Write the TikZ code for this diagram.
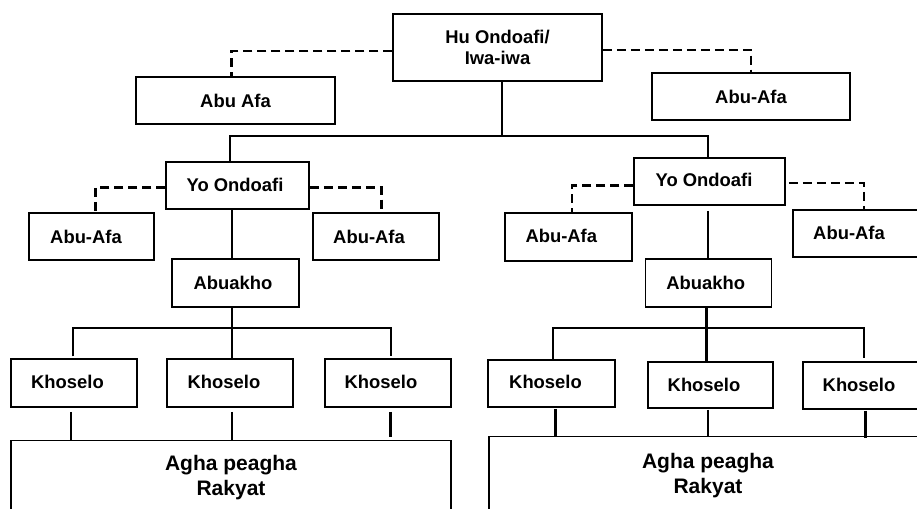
\documentclass[tikz,border=0pt]{standalone}
\usepackage{fontspec}
\setmainfont{Liberation Sans}
\newcommand{\lsh}[1]{\hspace*{#1pt}}
\begin{document}
\begin{tikzpicture}[x=1pt,y=-1pt,
  box/.style={draw=black,line width=1.5pt,fill=white,inner sep=0pt,align=center,
    font=\fontsize{18.4}{21.3}\selectfont\bfseries},
  big/.style={box,font=\fontsize{21}{25}\selectfont\bfseries},
  conn/.style={draw=black,line width=2.7pt},
  dsh/.style={draw=black,line width=2.6pt,dash pattern=on 9pt off 5pt}]
\useasboundingbox (0,0) rectangle (917,508);
\clip (0,0) rectangle (917,508);
% top
\node[box,minimum width=209pt,minimum height=67pt] (hu) at (497.5,47.5) {Hu Ondoafi/\\Iwa-iwa};
\node[box,minimum width=199pt,minimum height=47pt] (abuL1) at (235.5,100.5) {Abu Afa};
\node[box,minimum width=198pt,minimum height=47pt] (abuR1) at (751,96.5) {Abu-Afa};
% left branch
\node[box,minimum width=143pt,minimum height=47pt] (yoL) at (237.5,185.5) {\raisebox{2pt}{Yo Ondoafi}\lsh{5}};
\node[box,minimum width=125pt,minimum height=47pt] (abuL2) at (91.5,236.5) {Abu-Afa\lsh{11}};
\node[box,minimum width=126pt,minimum height=47pt] (abuL3) at (376,236.5) {Abu-Afa\lsh{14}};
\node[box,minimum width=127pt,minimum height=48pt] (akL) at (235.5,283) {Abuakho\lsh{5}};
\node[box,minimum width=126pt,minimum height=48pt] (kL1) at (74,383) {\raisebox{2pt}{Khoselo}\lsh{13}};
\node[box,minimum width=126pt,minimum height=48pt] (kL2) at (230,383) {\raisebox{2pt}{Khoselo}\lsh{12}};
\node[box,minimum width=126pt,minimum height=48pt] (kL3) at (388,383) {\raisebox{2pt}{Khoselo}\lsh{14}};
\node[big,minimum width=440pt,minimum height=74pt] (aghaL) at (231,477.7) {Agha peagha\\Rakyat};
% right branch
\node[box,minimum width=151pt,minimum height=47pt] (yoR) at (709.5,181.5) {\raisebox{3pt}{Yo Ondoafi}\lsh{11}};
\node[box,minimum width=127pt,minimum height=48pt] (abuR2) at (568.3,237) {\raisebox{2pt}{Abu-Afa}\lsh{14}};
\node[box,minimum width=130pt,minimum height=47pt] (abuR3) at (858,233.5) {\raisebox{2pt}{Abu-Afa}\lsh{18}};
\node[box,minimum width=126pt,minimum height=48pt] (akR) at (708.7,283) {Abuakho\lsh{6}};
\node[box,minimum width=127pt,minimum height=47pt] (kR1) at (551.5,383.5) {\raisebox{3pt}{Khoselo}\lsh{12}};
\node[box,minimum width=125pt,minimum height=46pt] (kR2) at (710.5,385) {\raisebox{1pt}{Khoselo}\lsh{13}};
\node[box,minimum width=130pt,minimum height=47pt] (kR3) at (868,385.5) {\raisebox{1pt}{Khoselo}\lsh{18}};
\node[big,minimum width=438pt,minimum height=78pt] (aghaR) at (708,475.7) {Agha peagha\\Rakyat};
% top connectors
\draw[dsh] ([yshift=-3.5pt]hu.west) -| ([xshift=-4pt]abuL1.north);
\draw[dsh] ([yshift=-2.5pt]hu.east) -| (abuR1.north);
\draw[conn] ([xshift=4.5pt]hu.south) -- ([xshift=4.5pt]hu.south |- 0,136);
\draw[conn] ([xshift=-7.5pt]yoL.north) |- ([xshift=-1.5pt]yoR.north |- 0,136) -- ([xshift=-1.5pt]yoR.north);
% left branch connectors
\draw[dsh] ([yshift=-2pt]yoL.west) -| ([xshift=4pt]abuL2.north);
\draw[dsh] ([yshift=-2pt]yoL.east) -| ([xshift=5.7pt]abuL3.north);
\draw[conn] ([xshift=-5.5pt]yoL.south) -- ([xshift=-5.5pt]yoL.south |- akL.north);
\draw[conn] ([xshift=-3.5pt]akL.south) -- ([xshift=-3.5pt]akL.south |- kL2.north);
\draw[conn] ([xshift=-1pt,yshift=2pt]kL1.north) |- ([xshift=3pt]kL3.north |- 0,328) -- ([xshift=3pt,yshift=2pt]kL3.north);
\draw[conn] ([xshift=-3pt,yshift=-4pt]kL1.south) -- ([xshift=-3pt]kL1.south |- aghaL.north);
\draw[conn] ([xshift=2pt,yshift=-4pt]kL2.south) -- ([xshift=2pt]kL2.south |- aghaL.north);
\draw[conn] ([xshift=2.7pt,yshift=-4pt]kL3.south) -- ([xshift=2.7pt,yshift=3pt]kL3.south |- aghaL.north);
% right branch connectors
\draw[dsh] ([yshift=-4pt]yoR.west) -| ([xshift=3.7pt]abuR2.north);
\draw[dsh] ([yshift=-1.5pt,xshift=3pt]yoR.east) -| ([xshift=6pt]abuR3.north);
\draw[conn] ([xshift=-1.5pt,yshift=-5pt]yoR.south) -- ([xshift=-1.5pt]yoR.south |- akR.north);
\draw[conn] ([xshift=-2pt]akR.south) -- ([xshift=-2pt]akR.south |- kR2.north);
\draw[conn] ([xshift=1.5pt]kR1.north) |- ([xshift=-4pt]kR3.north |- 0,328) -- ([xshift=-4pt,yshift=3pt]kR3.north);
\draw[conn] ([xshift=4.2pt,yshift=-1pt]kR1.south) -- ([xshift=4.2pt]kR1.south |- aghaR.north);
\draw[conn] ([xshift=-2.5pt,yshift=-1pt]kR2.south) -- ([xshift=-2.5pt]kR2.south |- aghaR.north);
\draw[conn] ([xshift=-2.3pt,yshift=-1pt]kR3.south) -- ([xshift=-2.3pt,yshift=-2pt]kR3.south |- aghaR.north);
\end{tikzpicture}
\end{document}
